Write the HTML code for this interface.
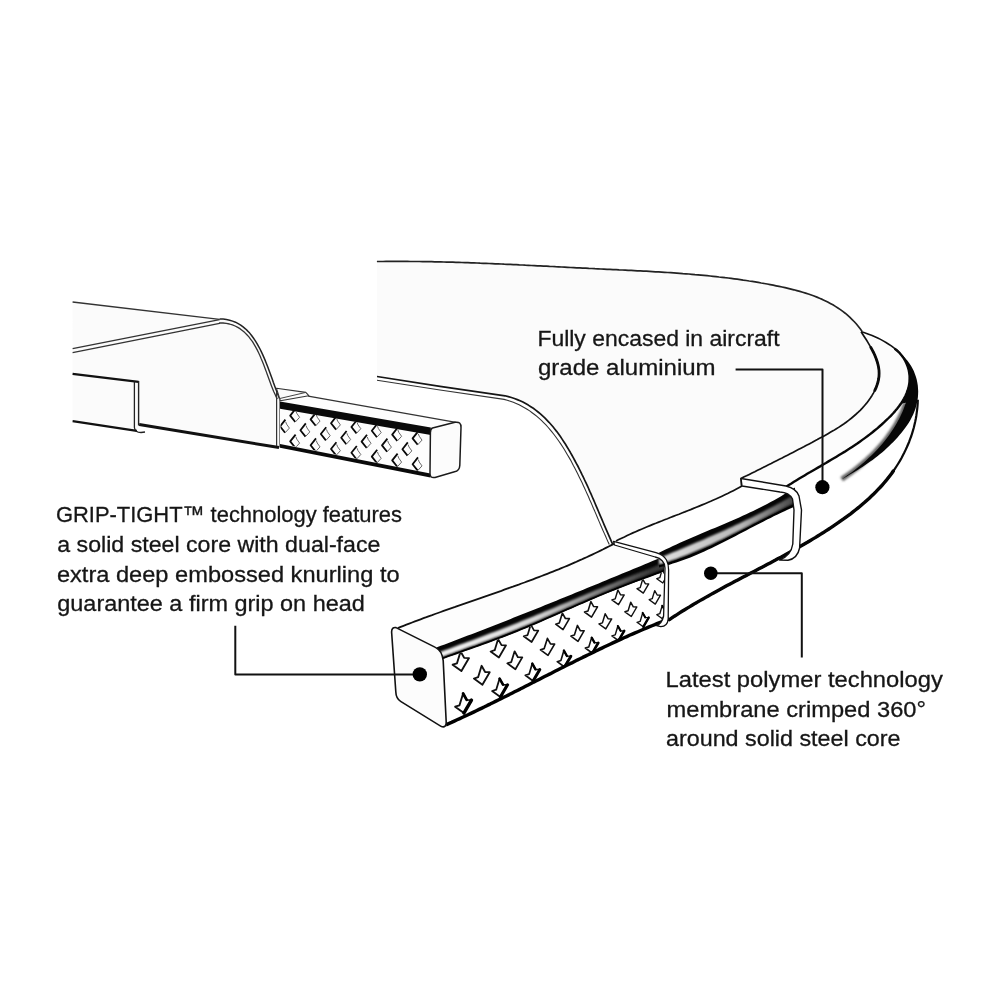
<!DOCTYPE html>
<html><head><meta charset="utf-8"><style>html,body{margin:0;padding:0;background:#fff;width:1000px;height:1000px;overflow:hidden}svg{display:block}</style></head>
<body><svg width="1000" height="1000" viewBox="0 0 1000 1000">
<defs><filter id="blur1" x="-20%" y="-20%" width="140%" height="140%"><feGaussianBlur stdDeviation="0.9"/></filter><linearGradient id="gE" gradientUnits="userSpaceOnUse" x1="440" y1="0" x2="650" y2="0"><stop offset="0" stop-color="#f4f4f4"/><stop offset="0.45" stop-color="#d8d8d8"/><stop offset="1" stop-color="#3a3a3a"/></linearGradient><linearGradient id="gG" gradientUnits="userSpaceOnUse" x1="660" y1="0" x2="795" y2="0"><stop offset="0" stop-color="#e0e0e0"/><stop offset="0.6" stop-color="#b8b8b8"/><stop offset="1" stop-color="#444"/></linearGradient><filter id="blur2" x="-20%" y="-20%" width="140%" height="140%"><feGaussianBlur stdDeviation="1.3"/></filter></defs>
<rect width="1000" height="1000" fill="#fff"/>
<path fill="#fbfbfb" d="M72.6,302 L219.6,319.4 L219.6,319.0 L223.1,319.1 L226.4,319.5 L229.6,320.2 L232.6,321.1 L235.5,322.2 L238.2,323.6 L240.7,325.1 L243.1,326.9 L245.4,328.8 L247.6,330.9 L249.7,333.1 L251.6,335.5 L253.4,338.0 L255.2,340.6 L256.9,343.3 L258.4,346.1 L260.0,349.0 L261.4,351.9 L262.8,354.9 L264.1,357.9 L265.4,360.9 L266.6,364.0 L267.8,367.1 L268.9,370.1 L270.1,373.2 L271.2,376.3 L272.3,379.3 L273.3,382.3 L274.4,385.2 L275.5,388.2 L276.6,391.0 L277.6,393.8 L278.7,396.5 L279.8,399.1 L280,447.8 L139,424.5 L137,431 L72.6,421.2 Z"/>
<path d="M72.6,302 L219.6,319.4" stroke="#333" stroke-width="1.4" fill="none" stroke-linejoin="round" />
<path d="M219.6,319.0 L223.1,319.1 L226.4,319.5 L229.6,320.2 L232.6,321.1 L235.5,322.2 L238.2,323.6 L240.7,325.1 L243.1,326.9 L245.4,328.8 L247.6,330.9 L249.7,333.1 L251.6,335.5 L253.4,338.0 L255.2,340.6 L256.9,343.3 L258.4,346.1 L260.0,349.0 L261.4,351.9 L262.8,354.9 L264.1,357.9 L265.4,360.9 L266.6,364.0 L267.8,367.1 L268.9,370.1 L270.1,373.2 L271.2,376.3 L272.3,379.3 L273.3,382.3 L274.4,385.2 L275.5,388.2 L276.6,391.0 L277.6,393.8 L278.7,396.5 L279.8,399.1" stroke="#222" stroke-width="1.5" fill="none" stroke-linejoin="round" />
<path d="M72.6,348.6 L219.6,319.6" stroke="#333" stroke-width="1.3" fill="none" stroke-linejoin="round" />
<path d="M72.6,352.6 L219.6,323.4 L219.5,322.9 L223.0,323.0 L226.3,323.4 L229.4,324.0 L232.4,324.9 L235.1,326.0 L237.8,327.4 L240.3,328.9 L242.6,330.7 L244.8,332.6 L246.9,334.7 L248.9,336.9 L250.7,339.3 L252.5,341.7 L254.1,344.4 L255.7,347.1 L257.2,349.9 L258.6,352.8 L260.0,355.7 L261.2,358.7 L262.5,361.7 L263.7,364.8 L264.8,367.8 L266.0,370.9 L267.1,374.0 L268.2,377.0 L269.3,380.0 L270.4,383.0 L271.5,385.9 L272.6,388.7 L273.7,391.4 L274.9,394.1 L276.1,396.7 L277.3,399.1" stroke="#333" stroke-width="1.3" fill="none" stroke-linejoin="round" />
<path d="M72.6,373.8 L138.6,381.8" stroke="#111" stroke-width="2.2" fill="none" stroke-linejoin="round" />
<path d="M138.6,381 L138.6,425.5" stroke="#222" stroke-width="1.4" fill="none" stroke-linejoin="round" />
<path d="M134.4,381.6 L134.4,427.5 Q135,432.5 141,432.5 L145,432" stroke="#222" stroke-width="1.3" fill="none" stroke-linejoin="round" />
<path d="M72.6,421.2 L136.8,430.8" stroke="#111" stroke-width="2.2" fill="none" stroke-linejoin="round" />
<path d="M139.2,424.6 L279,447.6" stroke="#111" stroke-width="3" fill="none" stroke-linejoin="round" />
<path d="M276.6,392 L276.6,446" stroke="#333" stroke-width="1.2" fill="none" stroke-linejoin="round" />
<path d="M280,399.6 L280,447.6" stroke="#333" stroke-width="1.2" fill="none" stroke-linejoin="round" />
<path fill="#fdfdfd" d="M280,399.8 L308.5,396 L456,422.3 L430.4,429 L430,477.4 L280,447.8 Z"/>
<path d="M276.4,388.2 L305.8,392.4 L308.8,395.7 L280.4,400.8 Z" fill="#fbfbfb" stroke="#333" stroke-width="1.1" stroke-linejoin="round"/>
<path d="M279.4,398.6 L305.8,392.4" stroke="#444" stroke-width="1.0" fill="none" stroke-linejoin="round" />
<path d="M308.2,396.2 L456,422.3" stroke="#333" stroke-width="1.3" fill="none" stroke-linejoin="round" />
<path d="M280,401.6 L430.8,427.4 L430.8,435 L280,408.8 Z" fill="#0a0a0a"/>
<path d="M280,444 L430.4,473.6 L430.4,477.6 L280,447.8 Z" fill="#0a0a0a"/>
<clipPath id="kb"><path d="M280.5,408.4 L430.5,434.6 L430.5,473.6 L280.5,443.6 Z"/></clipPath>
<g clip-path="url(#kb)">
<path d="M295.6,408.8 L290.2,415.6 L295.3,422.0" stroke="#0a0a0a" stroke-width="1.8" fill="none" stroke-linejoin="round"/><path d="M295.3,422.0 L299.6,417.3 L296.8,413.4 L295.9,411.0" stroke="#666" stroke-width="1.0" fill="none"/>
<path d="M285.4,419.6 L280.0,426.4 L285.1,432.8" stroke="#0a0a0a" stroke-width="1.8" fill="none" stroke-linejoin="round"/><path d="M285.1,432.8 L289.4,428.1 L286.6,424.2 L285.7,421.8" stroke="#666" stroke-width="1.0" fill="none"/>
<path d="M295.6,434.6 L290.2,441.4 L295.3,447.8" stroke="#0a0a0a" stroke-width="1.8" fill="none" stroke-linejoin="round"/><path d="M295.3,447.8 L299.6,443.1 L296.8,439.2 L295.9,436.8" stroke="#666" stroke-width="1.0" fill="none"/>
<path d="M316.0,412.6 L310.6,419.4 L315.7,425.8" stroke="#0a0a0a" stroke-width="1.8" fill="none" stroke-linejoin="round"/><path d="M315.7,425.8 L320.0,421.1 L317.2,417.2 L316.3,414.8" stroke="#666" stroke-width="1.0" fill="none"/>
<path d="M305.8,423.4 L300.4,430.2 L305.5,436.6" stroke="#0a0a0a" stroke-width="1.8" fill="none" stroke-linejoin="round"/><path d="M305.5,436.6 L309.8,431.9 L307.0,428.0 L306.1,425.6" stroke="#666" stroke-width="1.0" fill="none"/>
<path d="M316.0,438.4 L310.6,445.2 L315.7,451.6" stroke="#0a0a0a" stroke-width="1.8" fill="none" stroke-linejoin="round"/><path d="M315.7,451.6 L320.0,446.9 L317.2,443.0 L316.3,440.6" stroke="#666" stroke-width="1.0" fill="none"/>
<path d="M336.4,416.4 L331.0,423.2 L336.1,429.6" stroke="#0a0a0a" stroke-width="1.8" fill="none" stroke-linejoin="round"/><path d="M336.1,429.6 L340.4,424.9 L337.6,421.0 L336.7,418.6" stroke="#666" stroke-width="1.0" fill="none"/>
<path d="M326.2,427.2 L320.8,434.0 L325.9,440.4" stroke="#0a0a0a" stroke-width="1.8" fill="none" stroke-linejoin="round"/><path d="M325.9,440.4 L330.2,435.7 L327.4,431.8 L326.5,429.4" stroke="#666" stroke-width="1.0" fill="none"/>
<path d="M336.4,442.2 L331.0,449.0 L336.1,455.4" stroke="#0a0a0a" stroke-width="1.8" fill="none" stroke-linejoin="round"/><path d="M336.1,455.4 L340.4,450.7 L337.6,446.8 L336.7,444.4" stroke="#666" stroke-width="1.0" fill="none"/>
<path d="M356.8,420.2 L351.4,427.0 L356.5,433.4" stroke="#0a0a0a" stroke-width="1.8" fill="none" stroke-linejoin="round"/><path d="M356.5,433.4 L360.8,428.7 L358.0,424.8 L357.1,422.4" stroke="#666" stroke-width="1.0" fill="none"/>
<path d="M346.6,431.0 L341.2,437.8 L346.3,444.2" stroke="#0a0a0a" stroke-width="1.8" fill="none" stroke-linejoin="round"/><path d="M346.3,444.2 L350.6,439.5 L347.8,435.6 L346.9,433.2" stroke="#666" stroke-width="1.0" fill="none"/>
<path d="M356.8,446.0 L351.4,452.8 L356.5,459.2" stroke="#0a0a0a" stroke-width="1.8" fill="none" stroke-linejoin="round"/><path d="M356.5,459.2 L360.8,454.5 L358.0,450.6 L357.1,448.2" stroke="#666" stroke-width="1.0" fill="none"/>
<path d="M377.2,424.0 L371.8,430.8 L376.9,437.2" stroke="#0a0a0a" stroke-width="1.8" fill="none" stroke-linejoin="round"/><path d="M376.9,437.2 L381.2,432.5 L378.4,428.6 L377.5,426.2" stroke="#666" stroke-width="1.0" fill="none"/>
<path d="M367.0,434.8 L361.6,441.6 L366.7,448.0" stroke="#0a0a0a" stroke-width="1.8" fill="none" stroke-linejoin="round"/><path d="M366.7,448.0 L371.0,443.3 L368.2,439.4 L367.3,437.0" stroke="#666" stroke-width="1.0" fill="none"/>
<path d="M377.2,449.8 L371.8,456.6 L376.9,463.0" stroke="#0a0a0a" stroke-width="1.8" fill="none" stroke-linejoin="round"/><path d="M376.9,463.0 L381.2,458.3 L378.4,454.4 L377.5,452.0" stroke="#666" stroke-width="1.0" fill="none"/>
<path d="M397.6,427.8 L392.2,434.6 L397.3,441.0" stroke="#0a0a0a" stroke-width="1.8" fill="none" stroke-linejoin="round"/><path d="M397.3,441.0 L401.6,436.3 L398.8,432.4 L397.9,430.0" stroke="#666" stroke-width="1.0" fill="none"/>
<path d="M387.4,438.6 L382.0,445.4 L387.1,451.8" stroke="#0a0a0a" stroke-width="1.8" fill="none" stroke-linejoin="round"/><path d="M387.1,451.8 L391.4,447.1 L388.6,443.2 L387.7,440.8" stroke="#666" stroke-width="1.0" fill="none"/>
<path d="M397.6,453.6 L392.2,460.4 L397.3,466.8" stroke="#0a0a0a" stroke-width="1.8" fill="none" stroke-linejoin="round"/><path d="M397.3,466.8 L401.6,462.1 L398.8,458.2 L397.9,455.8" stroke="#666" stroke-width="1.0" fill="none"/>
<path d="M418.0,431.6 L412.6,438.4 L417.7,444.8" stroke="#0a0a0a" stroke-width="1.8" fill="none" stroke-linejoin="round"/><path d="M417.7,444.8 L422.0,440.1 L419.2,436.2 L418.3,433.8" stroke="#666" stroke-width="1.0" fill="none"/>
<path d="M407.8,442.4 L402.4,449.2 L407.5,455.6" stroke="#0a0a0a" stroke-width="1.8" fill="none" stroke-linejoin="round"/><path d="M407.5,455.6 L411.8,450.9 L409.0,447.0 L408.1,444.6" stroke="#666" stroke-width="1.0" fill="none"/>
<path d="M418.0,457.4 L412.6,464.2 L417.7,470.6" stroke="#0a0a0a" stroke-width="1.8" fill="none" stroke-linejoin="round"/><path d="M417.7,470.6 L422.0,465.9 L419.2,462.0 L418.3,459.6" stroke="#666" stroke-width="1.0" fill="none"/>
</g>
<path d="M432.5,428 L455,422.3 Q461.2,421.2 461,427.5 L459.8,465.5 Q459.5,470.8 454.5,471.8 L435,477.4 Q430,478.5 430,473.5 L430.4,432.5 Q430.6,428.6 432.5,428 Z" fill="#fcfcfc" stroke="#1a1a1a" stroke-width="1.5"/>
<path fill="#fbfbfb" d="M376.9,261.5 L380.0,261.5 L383.0,261.5 L386.1,261.4 L389.1,261.4 L392.2,261.4 L395.2,261.4 L398.3,261.4 L401.3,261.4 L404.3,261.4 L407.4,261.4 L410.4,261.5 L413.5,261.5 L416.5,261.5 L419.5,261.5 L422.6,261.6 L425.6,261.6 L428.6,261.7 L431.7,261.7 L434.7,261.8 L437.7,261.9 L440.8,261.9 L443.8,262.0 L446.8,262.1 L449.8,262.2 L452.9,262.2 L455.9,262.3 L458.9,262.4 L461.9,262.5 L465.0,262.6 L468.0,262.7 L471.0,262.8 L474.0,262.9 L477.0,263.0 L480.1,263.2 L483.1,263.3 L486.1,263.4 L489.1,263.5 L492.1,263.6 L495.2,263.8 L498.2,263.9 L501.2,264.0 L504.2,264.2 L507.2,264.3 L510.3,264.4 L513.3,264.6 L516.3,264.7 L519.3,264.9 L522.3,265.0 L525.3,265.2 L528.4,265.3 L531.4,265.5 L534.4,265.6 L537.4,265.8 L540.4,265.9 L543.5,266.1 L546.5,266.2 L549.5,266.4 L552.5,266.5 L555.5,266.7 L558.6,266.8 L561.6,267.0 L564.6,267.1 L567.6,267.3 L570.7,267.5 L573.7,267.6 L576.7,267.8 L579.7,267.9 L582.7,268.1 L585.8,268.2 L588.8,268.4 L591.8,268.5 L594.9,268.7 L597.9,268.8 L600.9,269.0 L603.9,269.1 L607.0,269.3 L610.0,269.4 L613.0,269.6 L616.1,269.7 L619.1,269.9 L622.1,270.0 L625.2,270.1 L628.2,270.3 L631.2,270.4 L634.3,270.6 L637.3,270.8 L640.4,270.9 L643.4,271.1 L646.4,271.2 L649.5,271.4 L652.5,271.6 L655.5,271.8 L658.6,271.9 L661.6,272.1 L664.6,272.3 L667.7,272.5 L670.7,272.7 L673.7,272.9 L676.8,273.1 L679.8,273.3 L682.8,273.6 L685.9,273.8 L688.9,274.0 L691.9,274.3 L695.0,274.6 L698.0,274.8 L701.0,275.1 L704.0,275.4 L707.1,275.7 L710.1,276.0 L713.1,276.3 L716.1,276.6 L719.1,277.0 L722.2,277.3 L725.2,277.7 L728.2,278.0 L731.2,278.4 L734.2,278.8 L737.2,279.2 L740.2,279.6 L743.2,280.1 L746.2,280.5 L749.2,281.0 L752.2,281.4 L755.2,281.9 L758.2,282.4 L761.2,283.0 L764.2,283.5 L767.2,284.0 L770.2,284.6 L773.2,285.2 L776.1,285.8 L779.1,286.4 L782.1,287.0 L785.1,287.7 L788.0,288.4 L791.0,289.1 L793.9,289.8 L796.9,290.6 L799.8,291.4 L802.7,292.2 L805.6,293.1 L808.4,294.0 L811.3,295.0 L814.1,296.0 L816.9,297.1 L819.6,298.3 L822.3,299.4 L825.0,300.7 L827.7,302.0 L830.3,303.4 L832.9,304.8 L835.4,306.4 L837.9,308.0 L840.4,309.6 L842.8,311.4 L845.2,313.2 L847.5,315.2 L849.7,317.2 L851.9,319.3 L854.1,321.5 L856.2,323.8 L858.2,326.2 L860.2,328.8 L862.1,331.4 L861.1,331.7 L862.7,334.2 L864.3,336.7 L866.0,339.3 L867.6,341.9 L869.2,344.6 L870.8,347.4 L872.3,350.2 L873.8,353.0 L875.1,355.9 L876.2,358.7 L877.2,361.7 L878.0,364.6 L878.6,367.5 L879.0,370.4 L879.1,373.3 L879.0,376.2 L878.6,379.1 L878.0,382.0 L877.1,384.8 L876.1,387.6 L874.8,390.4 L873.4,393.1 L871.9,395.7 L870.2,398.3 L868.3,400.9 L866.4,403.4 L864.4,405.7 L862.3,408.1 L860.2,410.3 L858.0,412.4 L855.7,414.5 L853.4,416.5 L851.0,418.5 L848.6,420.4 L846.2,422.2 L843.7,424.0 L841.1,425.7 L838.6,427.4 L836.0,429.0 L833.4,430.6 L830.7,432.1 L828.0,433.7 L825.4,435.2 L822.7,436.7 L820.0,438.1 L817.3,439.6 L814.6,441.0 L811.9,442.5 L809.2,443.9 L806.5,445.3 L803.8,446.8 L801.0,448.2 L798.3,449.6 L795.6,451.0 L792.9,452.4 L790.2,453.8 L787.5,455.2 L784.8,456.6 L782.1,458.0 L779.4,459.3 L776.6,460.7 L773.9,462.1 L771.2,463.5 L768.5,464.8 L765.7,466.2 L763.0,467.6 L760.3,468.9 L757.5,470.3 L754.8,471.7 L752.0,473.0 L749.3,474.4 L746.5,475.8 L743.7,477.1 L741.0,478.5 L741.5,486.3 L738.8,487.8 L736.0,489.3 L733.3,490.7 L730.5,492.1 L727.7,493.5 L724.9,494.8 L722.0,496.2 L719.2,497.5 L716.4,498.8 L713.5,500.0 L710.7,501.3 L707.8,502.5 L705.0,503.7 L702.1,504.9 L699.2,506.1 L696.3,507.3 L693.5,508.4 L690.6,509.6 L687.7,510.7 L684.8,511.9 L681.9,513.0 L679.0,514.2 L676.1,515.3 L673.2,516.4 L670.3,517.5 L667.4,518.7 L664.5,519.8 L661.6,521.0 L658.7,522.1 L655.8,523.3 L652.9,524.4 L650.0,525.6 L647.2,526.8 L644.3,528.0 L641.4,529.2 L638.6,530.4 L635.7,531.7 L632.9,532.9 L630.0,534.2 L627.2,535.5 L624.4,536.9 L621.6,538.2 L618.8,539.6 L616.0,541.0 L612,545 L611.6,541.8 L610.4,539.1 L609.2,536.3 L608.0,533.6 L606.8,530.8 L605.6,528.1 L604.4,525.3 L603.2,522.5 L602.0,519.7 L600.8,516.9 L599.6,514.1 L598.4,511.2 L597.2,508.4 L596.0,505.6 L594.8,502.7 L593.6,499.9 L592.3,497.0 L591.1,494.2 L589.8,491.4 L588.6,488.5 L587.3,485.7 L586.0,482.9 L584.6,480.0 L583.3,477.2 L581.9,474.4 L580.6,471.6 L579.2,468.8 L577.8,466.0 L576.3,463.3 L574.8,460.5 L573.4,457.8 L571.8,455.0 L570.3,452.3 L568.7,449.6 L567.1,447.0 L565.5,444.3 L563.8,441.7 L562.1,439.1 L560.4,436.6 L558.6,434.1 L556.8,431.6 L554.9,429.2 L553.0,426.8 L551.0,424.5 L549.0,422.3 L546.9,420.1 L544.8,417.9 L542.6,415.9 L540.4,413.9 L538.1,412.0 L535.7,410.1 L533.3,408.3 L530.8,406.7 L528.3,405.1 L525.6,403.6 L522.9,402.1 L520.1,400.8 L517.3,399.6 L514.4,398.5 L511.4,397.5 L508.3,396.6 L505.1,395.8 L440.0,386.3 L377.0,376.5 Z"/>
<path d="M376.9,261.5 L380.0,261.5 L383.0,261.5 L386.1,261.4 L389.1,261.4 L392.2,261.4 L395.2,261.4 L398.3,261.4 L401.3,261.4 L404.3,261.4 L407.4,261.4 L410.4,261.5 L413.5,261.5 L416.5,261.5 L419.5,261.5 L422.6,261.6 L425.6,261.6 L428.6,261.7 L431.7,261.7 L434.7,261.8 L437.7,261.9 L440.8,261.9 L443.8,262.0 L446.8,262.1 L449.8,262.2 L452.9,262.2 L455.9,262.3 L458.9,262.4 L461.9,262.5 L465.0,262.6 L468.0,262.7 L471.0,262.8 L474.0,262.9 L477.0,263.0 L480.1,263.2 L483.1,263.3 L486.1,263.4 L489.1,263.5 L492.1,263.6 L495.2,263.8 L498.2,263.9 L501.2,264.0 L504.2,264.2 L507.2,264.3 L510.3,264.4 L513.3,264.6 L516.3,264.7 L519.3,264.9 L522.3,265.0 L525.3,265.2 L528.4,265.3 L531.4,265.5 L534.4,265.6 L537.4,265.8 L540.4,265.9 L543.5,266.1 L546.5,266.2 L549.5,266.4 L552.5,266.5 L555.5,266.7 L558.6,266.8 L561.6,267.0 L564.6,267.1 L567.6,267.3 L570.7,267.5 L573.7,267.6 L576.7,267.8 L579.7,267.9 L582.7,268.1 L585.8,268.2 L588.8,268.4 L591.8,268.5 L594.9,268.7 L597.9,268.8 L600.9,269.0 L603.9,269.1 L607.0,269.3 L610.0,269.4 L613.0,269.6 L616.1,269.7 L619.1,269.9 L622.1,270.0 L625.2,270.1 L628.2,270.3 L631.2,270.4 L634.3,270.6 L637.3,270.8 L640.4,270.9 L643.4,271.1 L646.4,271.2 L649.5,271.4 L652.5,271.6 L655.5,271.8 L658.6,271.9 L661.6,272.1 L664.6,272.3 L667.7,272.5 L670.7,272.7 L673.7,272.9 L676.8,273.1 L679.8,273.3 L682.8,273.6 L685.9,273.8 L688.9,274.0 L691.9,274.3 L695.0,274.6 L698.0,274.8 L701.0,275.1 L704.0,275.4 L707.1,275.7 L710.1,276.0 L713.1,276.3 L716.1,276.6 L719.1,277.0 L722.2,277.3 L725.2,277.7 L728.2,278.0 L731.2,278.4 L734.2,278.8 L737.2,279.2 L740.2,279.6 L743.2,280.1 L746.2,280.5 L749.2,281.0 L752.2,281.4 L755.2,281.9 L758.2,282.4 L761.2,283.0 L764.2,283.5 L767.2,284.0 L770.2,284.6 L773.2,285.2 L776.1,285.8 L779.1,286.4 L782.1,287.0 L785.1,287.7 L788.0,288.4 L791.0,289.1 L793.9,289.8 L796.9,290.6 L799.8,291.4 L802.7,292.2 L805.6,293.1 L808.4,294.0 L811.3,295.0 L814.1,296.0 L816.9,297.1 L819.6,298.3 L822.3,299.4 L825.0,300.7 L827.7,302.0 L830.3,303.4 L832.9,304.8 L835.4,306.4 L837.9,308.0 L840.4,309.6 L842.8,311.4 L845.2,313.2 L847.5,315.2 L849.7,317.2 L851.9,319.3 L854.1,321.5 L856.2,323.8 L858.2,326.2 L860.2,328.8 L862.1,331.4" stroke="#222" stroke-width="1.7" fill="none" stroke-linejoin="round" />
<path d="M612.8,544.5 L611.6,541.8 L610.4,539.1 L609.2,536.3 L608.0,533.6 L606.8,530.8 L605.6,528.1 L604.4,525.3 L603.2,522.5 L602.0,519.7 L600.8,516.9 L599.6,514.1 L598.4,511.2 L597.2,508.4 L596.0,505.6 L594.8,502.7 L593.6,499.9 L592.3,497.0 L591.1,494.2 L589.8,491.4 L588.6,488.5 L587.3,485.7 L586.0,482.9 L584.6,480.0 L583.3,477.2 L581.9,474.4 L580.6,471.6 L579.2,468.8 L577.8,466.0 L576.3,463.3 L574.8,460.5 L573.4,457.8 L571.8,455.0 L570.3,452.3 L568.7,449.6 L567.1,447.0 L565.5,444.3 L563.8,441.7 L562.1,439.1 L560.4,436.6 L558.6,434.1 L556.8,431.6 L554.9,429.2 L553.0,426.8 L551.0,424.5 L549.0,422.3 L546.9,420.1 L544.8,417.9 L542.6,415.9 L540.4,413.9 L538.1,412.0 L535.7,410.1 L533.3,408.3 L530.8,406.7 L528.3,405.1 L525.6,403.6 L522.9,402.1 L520.1,400.8 L517.3,399.6 L514.4,398.5 L511.4,397.5 L508.3,396.6 L505.1,395.8 L440.0,386.3 L377.0,376.5" stroke="#151515" stroke-width="1.7" fill="none" stroke-linejoin="round" />
<path d="M609.3,544.5 L608.0,541.8 L606.8,539.1 L605.6,536.3 L604.4,533.6 L603.1,530.8 L601.9,528.0 L600.7,525.2 L599.5,522.4 L598.3,519.6 L597.1,516.8 L595.9,513.9 L594.7,511.1 L593.4,508.3 L592.2,505.4 L591.0,502.5 L589.7,499.7 L588.5,496.8 L587.2,494.0 L585.9,491.1 L584.6,488.2 L583.3,485.4 L582.0,482.5 L580.6,479.7 L579.2,476.9 L577.8,474.0 L576.4,471.2 L575.0,468.4 L573.5,465.7 L572.1,462.9 L570.6,460.1 L569.0,457.4 L567.4,454.7 L565.8,452.0 L564.2,449.3 L562.6,446.7 L560.9,444.1 L559.1,441.5 L557.3,439.0 L555.5,436.5 L553.6,434.0 L551.7,431.6 L549.8,429.3 L547.8,427.0 L545.7,424.7 L543.6,422.6 L541.4,420.4 L539.2,418.4 L536.9,416.4 L534.5,414.5 L532.1,412.7 L529.7,410.9 L527.1,409.3 L524.5,407.7 L521.8,406.2 L519.1,404.8 L516.2,403.5 L513.3,402.3 L510.3,401.2 L507.2,400.3 L504.1,399.4 L440.0,390.0 L377.0,380.2" stroke="#333" stroke-width="1.1" fill="none" stroke-linejoin="round" />
<path fill="#fcfcfc" d="M861.1,331.7 L862.7,334.2 L864.3,336.7 L866.0,339.3 L867.6,341.9 L869.2,344.6 L870.8,347.4 L872.3,350.2 L873.8,353.0 L875.1,355.9 L876.2,358.7 L877.2,361.7 L878.0,364.6 L878.6,367.5 L879.0,370.4 L879.1,373.3 L879.0,376.2 L878.6,379.1 L878.0,382.0 L877.1,384.8 L876.1,387.6 L874.8,390.4 L873.4,393.1 L871.9,395.7 L870.2,398.3 L868.3,400.9 L866.4,403.4 L864.4,405.7 L862.3,408.1 L860.2,410.3 L858.0,412.4 L855.7,414.5 L853.4,416.5 L851.0,418.5 L848.6,420.4 L846.2,422.2 L843.7,424.0 L841.1,425.7 L838.6,427.4 L836.0,429.0 L833.4,430.6 L830.7,432.1 L828.0,433.7 L825.4,435.2 L822.7,436.7 L820.0,438.1 L817.3,439.6 L814.6,441.0 L811.9,442.5 L809.2,443.9 L806.5,445.3 L803.8,446.8 L801.0,448.2 L798.3,449.6 L795.6,451.0 L792.9,452.4 L790.2,453.8 L787.5,455.2 L784.8,456.6 L782.1,458.0 L779.4,459.3 L776.6,460.7 L773.9,462.1 L771.2,463.5 L768.5,464.8 L765.7,466.2 L763.0,467.6 L760.3,468.9 L757.5,470.3 L754.8,471.7 L752.0,473.0 L749.3,474.4 L746.5,475.8 L743.7,477.1 L741.0,478.5 L786,486.5 L786.2,486.8 L788.8,485.1 L791.4,483.5 L794.0,481.8 L796.6,480.2 L799.3,478.6 L801.9,477.0 L804.6,475.4 L807.2,473.8 L809.9,472.3 L812.6,470.7 L815.2,469.2 L817.9,467.6 L820.6,466.1 L823.2,464.5 L825.9,463.0 L828.5,461.4 L831.2,459.8 L833.8,458.3 L836.5,456.7 L839.1,455.1 L841.7,453.5 L844.4,451.9 L847.0,450.2 L849.6,448.6 L852.1,446.9 L854.7,445.2 L857.3,443.5 L859.8,441.7 L862.3,439.9 L864.8,438.1 L867.3,436.3 L869.8,434.4 L872.2,432.5 L874.6,430.5 L877.0,428.6 L879.4,426.5 L881.7,424.5 L884.0,422.4 L886.3,420.2 L888.6,418.0 L890.8,415.8 L893.0,413.5 L895.1,411.1 L897.1,408.7 L899.0,406.3 L900.8,403.8 L902.5,401.2 L904.0,398.6 L905.4,396.0 L906.6,393.2 L907.6,390.5 L908.5,387.7 L909.1,384.8 L909.5,381.8 L909.6,378.9 L909.6,375.9 L909.2,372.9 L908.7,369.9 L907.8,366.9 L906.7,364.0 L905.4,361.2 L903.8,358.4 L901.9,355.7 L899.8,353.2 L897.3,350.8 L894.6,348.6 L861.2,331.7 Z"/>
<path d="M841.7,479.2 L844.3,477.4 L846.9,475.6 L849.5,473.7 L852.1,471.9 L854.6,469.9 L857.1,468.0 L859.6,466.0 L862.0,464.0 L864.4,461.9 L866.8,459.8 L869.1,457.6 L871.4,455.5 L873.7,453.2 L875.9,451.0 L878.0,448.7 L880.2,446.3 L882.2,443.9 L884.2,441.5 L886.2,439.0 L888.1,436.5 L889.9,433.9 L891.7,431.3 L893.4,428.7 L895.1,426.0 L896.7,423.3 L898.2,420.5 L899.7,417.7 L901.1,414.8 L902.4,411.9 L903.6,408.9 L904.7,405.9 L905.8,402.8" stroke="#666" stroke-width="5" fill="none" stroke-linejoin="round" filter="url(#blur2)"/>
<path fill="#070707" d="M896.4,349.8 L898.9,351.8 L901.2,353.9 L903.4,356.2 L905.5,358.5 L907.5,360.8 L909.3,363.3 L911.0,365.8 L912.5,368.4 L913.8,371.1 L914.9,373.9 L915.9,376.7 L916.7,379.5 L917.3,382.4 L917.8,385.4 L918.0,388.3 L918.2,391.3 L918.1,394.3 L917.9,397.2 L917.5,400.2 L916.9,403.1 L916.2,406.1 L915.4,409.0 L914.3,411.8 L913.2,414.6 L911.8,417.3 L910.4,420.0 L908.8,422.7 L907.1,425.2 L905.3,427.8 L903.4,430.2 L901.5,432.7 L899.5,435.1 L897.5,437.4 L895.4,439.7 L893.3,441.9 L891.1,444.1 L888.9,446.3 L886.7,448.3 L884.4,450.4 L882.1,452.4 L879.8,454.3 L877.4,456.2 L875.1,458.1 L872.6,459.9 L870.2,461.6 L867.7,463.3 L865.2,465.0 L862.7,466.7 L860.2,468.3 L857.6,469.9 L855.1,471.5 L852.5,473.1 L849.8,474.6 L847.2,476.2 L844.5,477.7 L841.8,479.3 L841.7,479.2 L844.3,477.4 L846.9,475.6 L849.5,473.7 L852.1,471.9 L854.6,469.9 L857.1,468.0 L859.6,466.0 L862.0,464.0 L864.4,461.9 L866.8,459.8 L869.1,457.6 L871.4,455.5 L873.7,453.2 L875.9,451.0 L878.0,448.7 L880.2,446.3 L882.2,443.9 L884.2,441.5 L886.2,439.0 L888.1,436.5 L889.9,433.9 L891.7,431.3 L893.4,428.7 L895.1,426.0 L896.7,423.3 L898.2,420.5 L899.7,417.7 L901.1,414.8 L902.4,411.9 L903.6,408.9 L904.7,405.9 L905.8,402.8 L900.8,403.8 L902.5,401.2 L904.0,398.6 L905.4,396.0 L906.6,393.2 L907.6,390.5 L908.5,387.7 L909.1,384.8 L909.5,381.8 L909.6,378.9 L909.6,375.9 L909.2,372.9 L908.7,369.9 L907.8,366.9 L906.7,364.0 L905.4,361.2 L903.8,358.4 L901.9,355.7 L899.8,353.2 L897.3,350.8 L894.6,348.6 Z"/>
<path d="M894.6,348.6 L897.3,350.8 L899.8,353.2 L901.9,355.7 L903.8,358.4 L905.4,361.2 L906.7,364.0 L907.8,366.9 L908.7,369.9 L909.2,372.9 L909.6,375.9 L909.6,378.9 L909.5,381.8 L909.1,384.8 L908.5,387.7 L907.6,390.5 L906.6,393.2 L905.4,396.0 L904.0,398.6 L902.5,401.2 L900.8,403.8 L899.0,406.3 L897.1,408.7 L895.1,411.1 L893.0,413.5 L890.8,415.8 L888.6,418.0 L886.3,420.2 L884.0,422.4 L881.7,424.5 L879.4,426.5 L877.0,428.6 L874.6,430.5 L872.2,432.5 L869.8,434.4 L867.3,436.3 L864.8,438.1 L862.3,439.9 L859.8,441.7 L857.3,443.5 L854.7,445.2 L852.1,446.9 L849.6,448.6 L847.0,450.2 L844.4,451.9 L841.7,453.5 L839.1,455.1 L836.5,456.7 L833.8,458.3 L831.2,459.8 L828.5,461.4 L825.9,463.0 L823.2,464.5 L820.6,466.1 L817.9,467.6 L815.2,469.2 L812.6,470.7 L809.9,472.3 L807.2,473.8 L804.6,475.4 L801.9,477.0 L799.3,478.6 L796.6,480.2 L794.0,481.8 L791.4,483.5 L788.8,485.1 L786.2,486.8" stroke="#070707" stroke-width="2.4" fill="none" stroke-linejoin="round" />
<path d="M861.1,331.7 L862.7,334.2 L864.3,336.7 L866.0,339.3 L867.6,341.9 L869.2,344.6 L870.8,347.4 L872.3,350.2 L873.8,353.0 L875.1,355.9 L876.2,358.7 L877.2,361.7 L878.0,364.6 L878.6,367.5 L879.0,370.4 L879.1,373.3 L879.0,376.2 L878.6,379.1 L878.0,382.0 L877.1,384.8 L876.1,387.6 L874.8,390.4 L873.4,393.1 L871.9,395.7 L870.2,398.3 L868.3,400.9 L866.4,403.4 L864.4,405.7 L862.3,408.1 L860.2,410.3 L858.0,412.4 L855.7,414.5 L853.4,416.5 L851.0,418.5 L848.6,420.4 L846.2,422.2 L843.7,424.0 L841.1,425.7 L838.6,427.4 L836.0,429.0 L833.4,430.6 L830.7,432.1 L828.0,433.7 L825.4,435.2 L822.7,436.7 L820.0,438.1 L817.3,439.6 L814.6,441.0 L811.9,442.5 L809.2,443.9 L806.5,445.3 L803.8,446.8 L801.0,448.2 L798.3,449.6 L795.6,451.0 L792.9,452.4 L790.2,453.8 L787.5,455.2 L784.8,456.6 L782.1,458.0 L779.4,459.3 L776.6,460.7 L773.9,462.1 L771.2,463.5 L768.5,464.8 L765.7,466.2 L763.0,467.6 L760.3,468.9 L757.5,470.3 L754.8,471.7 L752.0,473.0 L749.3,474.4 L746.5,475.8 L743.7,477.1 L741.0,478.5 L741.5,486.3 L738.8,487.8 L736.0,489.3 L733.3,490.7 L730.5,492.1 L727.7,493.5 L724.9,494.8 L722.0,496.2 L719.2,497.5 L716.4,498.8 L713.5,500.0 L710.7,501.3 L707.8,502.5 L705.0,503.7 L702.1,504.9 L699.2,506.1 L696.3,507.3 L693.5,508.4 L690.6,509.6 L687.7,510.7 L684.8,511.9 L681.9,513.0 L679.0,514.2 L676.1,515.3 L673.2,516.4 L670.3,517.5 L667.4,518.7 L664.5,519.8 L661.6,521.0 L658.7,522.1 L655.8,523.3 L652.9,524.4 L650.0,525.6 L647.2,526.8 L644.3,528.0 L641.4,529.2 L638.6,530.4 L635.7,531.7 L632.9,532.9 L630.0,534.2 L627.2,535.5 L624.4,536.9 L621.6,538.2 L618.8,539.6 L616.0,541.0" stroke="#111" stroke-width="1.7" fill="none" stroke-linejoin="round" />
<path d="M870.8,347.4 L872.3,350.2 L873.8,353.0 L875.1,355.9 L876.2,358.7 L877.2,361.7 L878.0,364.6 L878.6,367.5 L879.0,370.4 L879.1,373.3 L879.0,376.2 L878.6,379.1 L878.0,382.0 L877.1,384.8 L876.1,387.6 L874.8,390.4" stroke="#0a0a0a" stroke-width="2.8" fill="none" stroke-linejoin="round" stroke-linecap="round"/>
<path d="M861.2,331.8 L863.9,332.6 L866.6,333.4 L869.3,334.4 L872.1,335.5 L874.9,336.7 L877.7,338.0 L880.5,339.4 L883.2,340.9 L886.0,342.5 L888.7,344.2 L891.3,345.9 L893.9,347.8 L896.4,349.8 L898.9,351.8" stroke="#111" stroke-width="1.6" fill="none" stroke-linejoin="round" />
<path d="M917.8,399.8 L917.7,402.9 L917.5,406.0 L917.2,409.1 L916.8,412.1 L916.4,415.2 L915.9,418.2 L915.3,421.2 L914.6,424.2 L913.9,427.2 L913.1,430.2 L912.2,433.1 L911.3,436.0 L910.2,438.9 L909.2,441.7 L908.0,444.5 L906.8,447.3 L905.5,450.1 L904.2,452.8 L902.8,455.5 L901.4,458.2 L899.9,460.9 L898.3,463.5 L896.7,466.0 L895.0,468.6 L893.3,471.1 L891.6,473.5 L889.7,476.0 L887.9,478.3 L886.0,480.7 L884.0,483.0 L882.0,485.3 L880.0,487.5 L877.9,489.7 L875.8,491.9 L873.7,494.0 L871.5,496.1 L869.3,498.2 L867.0,500.2 L864.7,502.3 L862.4,504.2 L860.1,506.2 L857.8,508.1 L855.4,510.0 L853.0,511.9 L850.6,513.8 L848.1,515.6 L845.7,517.4 L843.2,519.2 L840.7,520.9 L838.2,522.7 L835.7,524.4 L833.2,526.1 L830.6,527.8 L828.1,529.5 L825.5,531.1 L823.0,532.8 L820.4,534.4 L817.8,536.0 L815.2,537.6 L812.6,539.1 L810.0,540.7 L807.4,542.3 L804.8,543.8 L802.2,545.3 L799.5,546.8 L796.9,548.3 L794.2,549.8 L791.6,551.3 L788.9,552.8 L786.2,554.3 L783.6,555.7 L780.9,557.2 L778.2,558.6 L775.5,560.1 L772.8,561.5 L770.2,562.9 L767.5,564.3 L764.8,565.8 L762.1,567.2 L759.4,568.6 L756.7,570.0 L754.0,571.4 L751.3,572.8 L748.6,574.3 L745.9,575.7 L743.2,577.1 L740.5,578.5 L737.8,579.9 L735.1,581.3 L732.4,582.8 L729.7,584.2 L727.0,585.6 L724.3,587.1 L721.7,588.5 L719.0,590.0 L716.3,591.4 L713.6,592.9 L711.0,594.4 L708.3,595.9 L705.7,597.4 L703.0,598.9 L700.4,600.4 L697.8,601.9 L695.1,603.4 L692.5,605.0 L689.9,606.6 L687.3,608.1 L684.7,609.7 L682.1,611.3 L679.6,612.9 L677.0,614.6 L674.4,616.2 L671.9,617.9 L669.4,619.6" stroke="#0a0a0a" stroke-width="2.2" fill="none" stroke-linejoin="round" />
<path d="M893.3,471.1 L891.6,473.5 L889.7,476.0 L887.9,478.3 L886.0,480.7 L884.0,483.0 L882.0,485.3 L880.0,487.5 L877.9,489.7 L875.8,491.9 L873.7,494.0 L871.5,496.1 L869.3,498.2 L867.0,500.2 L864.7,502.3 L862.4,504.2 L860.1,506.2 L857.8,508.1 L855.4,510.0 L853.0,511.9 L850.6,513.8 L848.1,515.6 L845.7,517.4 L843.2,519.2 L840.7,520.9 L838.2,522.7 L835.7,524.4 L833.2,526.1 L830.6,527.8 L828.1,529.5 L825.5,531.1 L823.0,532.8 L820.4,534.4 L817.8,536.0 L815.2,537.6 L812.6,539.1 L810.0,540.7 L807.4,542.3 L804.8,543.8 L802.2,545.3 L799.5,546.8 L796.9,548.3 L794.2,549.8 L791.6,551.3 L788.9,552.8 L786.2,554.3 L783.6,555.7 L780.9,557.2 L778.2,558.6 L775.5,560.1 L772.8,561.5 L770.2,562.9 L767.5,564.3 L764.8,565.8 L762.1,567.2 L759.4,568.6 L756.7,570.0 L754.0,571.4 L751.3,572.8 L748.6,574.3 L745.9,575.7 L743.2,577.1 L740.5,578.5 L737.8,579.9 L735.1,581.3 L732.4,582.8 L729.7,584.2 L727.0,585.6 L724.3,587.1 L721.7,588.5 L719.0,590.0 L716.3,591.4 L713.6,592.9 L711.0,594.4 L708.3,595.9 L705.7,597.4 L703.0,598.9 L700.4,600.4 L697.8,601.9 L695.1,603.4 L692.5,605.0 L689.9,606.6 L687.3,608.1 L684.7,609.7 L682.1,611.3 L679.6,612.9 L677.0,614.6 L674.4,616.2 L671.9,617.9 L669.4,619.6" stroke="#050505" stroke-width="3.4" fill="none" stroke-linejoin="round" stroke-linecap="round"/>
<path fill="#fdfdfd" d="M397.8,628.1 L400.7,626.9 L403.5,625.8 L406.4,624.7 L409.2,623.6 L412.1,622.5 L414.9,621.4 L417.8,620.3 L420.6,619.3 L423.5,618.2 L426.4,617.2 L429.2,616.1 L432.1,615.1 L435.0,614.0 L437.9,613.0 L440.7,612.0 L443.6,610.9 L446.5,609.9 L449.4,608.9 L452.3,607.9 L455.2,606.9 L458.0,605.8 L460.9,604.8 L463.8,603.8 L466.7,602.8 L469.6,601.8 L472.5,600.8 L475.4,599.8 L478.3,598.8 L481.2,597.8 L484.0,596.8 L486.9,595.8 L489.8,594.8 L492.7,593.8 L495.6,592.8 L498.5,591.8 L501.4,590.8 L504.3,589.7 L507.1,588.7 L510.0,587.7 L512.9,586.7 L515.8,585.6 L518.7,584.6 L521.5,583.5 L524.4,582.5 L527.3,581.4 L530.1,580.4 L533.0,579.3 L535.8,578.2 L538.7,577.1 L541.6,576.0 L544.4,574.9 L547.3,573.8 L550.1,572.7 L552.9,571.6 L555.8,570.4 L558.6,569.3 L561.4,568.1 L564.2,567.0 L567.1,565.8 L569.9,564.6 L572.7,563.4 L575.5,562.2 L578.3,560.9 L581.1,559.7 L583.9,558.4 L586.6,557.2 L589.4,555.9 L592.2,554.6 L595.0,553.3 L597.7,552.0 L600.5,550.6 L603.2,549.3 L605.9,547.9 L608.7,546.5 L611.4,545.1 L614.1,543.7 L664,556.5 L664.0,556.4 L660.2,557.9 L656.3,559.5 L652.5,561.1 L648.6,562.7 L644.8,564.3 L640.9,565.9 L637.1,567.5 L633.2,569.1 L629.4,570.7 L625.5,572.3 L621.7,573.8 L617.8,575.4 L614.0,577.0 L610.1,578.6 L606.3,580.2 L602.4,581.8 L598.6,583.4 L594.7,584.9 L590.9,586.5 L587.1,588.1 L583.2,589.7 L579.4,591.3 L575.5,592.8 L571.7,594.4 L567.8,596.0 L564.0,597.5 L560.1,599.1 L556.3,600.7 L552.4,602.2 L548.6,603.8 L544.7,605.3 L540.9,606.9 L537.0,608.4 L533.2,610.0 L529.3,611.5 L525.5,613.0 L521.6,614.6 L517.8,616.1 L513.9,617.6 L510.1,619.2 L506.3,620.7 L502.4,622.2 L498.6,623.7 L494.7,625.2 L490.9,626.7 L487.0,628.2 L483.2,629.7 L479.3,631.2 L475.5,632.7 L471.6,634.2 L467.8,635.6 L463.9,637.1 L460.1,638.6 L456.2,640.0 L452.4,641.5 L448.5,642.9 L444.7,644.4 L440.8,645.8 L437.0,647.3 L399,628 Z"/>
<path d="M397.8,628.1 L400.7,626.9 L403.5,625.8 L406.4,624.7 L409.2,623.6 L412.1,622.5 L414.9,621.4 L417.8,620.3 L420.6,619.3 L423.5,618.2 L426.4,617.2 L429.2,616.1 L432.1,615.1 L435.0,614.0 L437.9,613.0 L440.7,612.0 L443.6,610.9 L446.5,609.9 L449.4,608.9 L452.3,607.9 L455.2,606.9 L458.0,605.8 L460.9,604.8 L463.8,603.8 L466.7,602.8 L469.6,601.8 L472.5,600.8 L475.4,599.8 L478.3,598.8 L481.2,597.8 L484.0,596.8 L486.9,595.8 L489.8,594.8 L492.7,593.8 L495.6,592.8 L498.5,591.8 L501.4,590.8 L504.3,589.7 L507.1,588.7 L510.0,587.7 L512.9,586.7 L515.8,585.6 L518.7,584.6 L521.5,583.5 L524.4,582.5 L527.3,581.4 L530.1,580.4 L533.0,579.3 L535.8,578.2 L538.7,577.1 L541.6,576.0 L544.4,574.9 L547.3,573.8 L550.1,572.7 L552.9,571.6 L555.8,570.4 L558.6,569.3 L561.4,568.1 L564.2,567.0 L567.1,565.8 L569.9,564.6 L572.7,563.4 L575.5,562.2 L578.3,560.9 L581.1,559.7 L583.9,558.4 L586.6,557.2 L589.4,555.9 L592.2,554.6 L595.0,553.3 L597.7,552.0 L600.5,550.6 L603.2,549.3 L605.9,547.9 L608.7,546.5 L611.4,545.1 L614.1,543.7" stroke="#111" stroke-width="1.8" fill="none" stroke-linejoin="round" />
<path fill="#050505" d="M437.0,647.3 L440.8,645.8 L444.7,644.4 L448.5,642.9 L452.4,641.5 L456.2,640.0 L460.1,638.6 L463.9,637.1 L467.8,635.6 L471.6,634.2 L475.5,632.7 L479.3,631.2 L483.2,629.7 L487.0,628.2 L490.9,626.7 L494.7,625.2 L498.6,623.7 L502.4,622.2 L506.3,620.7 L510.1,619.2 L513.9,617.6 L517.8,616.1 L521.6,614.6 L525.5,613.0 L529.3,611.5 L533.2,610.0 L537.0,608.4 L540.9,606.9 L544.7,605.3 L548.6,603.8 L552.4,602.2 L556.3,600.7 L560.1,599.1 L564.0,597.5 L567.8,596.0 L571.7,594.4 L575.5,592.8 L579.4,591.3 L583.2,589.7 L587.1,588.1 L590.9,586.5 L594.7,584.9 L598.6,583.4 L602.4,581.8 L606.3,580.2 L610.1,578.6 L614.0,577.0 L617.8,575.4 L621.7,573.8 L625.5,572.3 L629.4,570.7 L633.2,569.1 L637.1,567.5 L640.9,565.9 L644.8,564.3 L648.6,562.7 L652.5,561.1 L656.3,559.5 L660.2,557.9 L664.0,556.4 L664.0,571.8 L660.2,573.2 L656.3,574.5 L652.5,575.9 L648.6,577.4 L644.8,578.8 L640.9,580.2 L637.1,581.6 L633.2,583.1 L629.4,584.6 L625.5,586.0 L621.7,587.5 L617.8,589.0 L614.0,590.5 L610.1,592.1 L606.3,593.6 L602.4,595.2 L598.6,596.8 L594.7,598.4 L590.9,600.1 L587.1,601.7 L583.2,603.4 L579.4,605.0 L575.5,606.7 L571.7,608.4 L567.8,610.1 L564.0,611.8 L560.1,613.5 L556.3,615.2 L552.4,616.9 L548.6,618.6 L544.7,620.3 L540.9,622.0 L537.0,623.7 L533.2,625.3 L529.3,626.9 L525.5,628.5 L521.6,630.1 L517.8,631.7 L513.9,633.2 L510.1,634.7 L506.3,636.2 L502.4,637.7 L498.6,639.1 L494.7,640.6 L490.9,642.0 L487.0,643.4 L483.2,644.8 L479.3,646.2 L475.5,647.6 L471.6,648.9 L467.8,650.3 L463.9,651.6 L460.1,653.0 L456.2,654.4 L452.4,655.7 L448.5,657.1 L444.7,658.4 L440.8,659.8 L437.0,659.8 Z"/>
<path fill="url(#gE)" filter="url(#blur2)" d="M437.0,652.5 L440.8,651.7 L444.7,650.3 L448.5,648.9 L452.4,647.5 L456.2,646.0 L460.1,644.6 L463.9,643.2 L467.8,641.8 L471.6,640.4 L475.5,638.9 L479.3,637.5 L483.2,636.0 L487.0,634.6 L490.9,633.1 L494.7,631.7 L498.6,630.2 L502.4,628.7 L506.3,627.2 L510.1,625.7 L513.9,624.2 L517.8,622.7 L521.6,621.1 L525.5,619.6 L529.3,618.0 L533.2,616.4 L537.0,614.8 L540.9,613.2 L544.7,611.6 L548.6,610.0 L552.4,608.4 L556.3,606.8 L560.1,605.1 L564.0,603.5 L567.8,601.9 L571.7,600.3 L575.5,598.7 L579.4,597.0 L583.2,595.4 L587.1,593.8 L590.9,592.2 L594.7,590.6 L598.6,589.0 L602.4,587.4 L606.3,585.8 L610.1,584.3 L614.0,582.7 L617.8,581.1 L621.7,579.6 L625.5,578.0 L629.4,576.5 L633.2,575.0 L637.1,573.4 L640.9,571.9 L644.8,570.4 L648.6,568.9 L652.5,567.4 L656.3,565.8 L660.2,564.3 L664.0,562.8 L664.0,569.0 L660.2,570.4 L656.3,571.8 L652.5,573.3 L648.6,574.7 L644.8,576.2 L640.9,577.6 L637.1,579.1 L633.2,580.6 L629.4,582.1 L625.5,583.6 L621.7,585.1 L617.8,586.6 L614.0,588.1 L610.1,589.7 L606.3,591.2 L602.4,592.8 L598.6,594.4 L594.7,596.0 L590.9,597.6 L587.1,599.3 L583.2,600.9 L579.4,602.5 L575.5,604.2 L571.7,605.9 L567.8,607.6 L564.0,609.2 L560.1,610.9 L556.3,612.6 L552.4,614.3 L548.6,615.9 L544.7,617.6 L540.9,619.3 L537.0,620.9 L533.2,622.5 L529.3,624.2 L525.5,625.8 L521.6,627.3 L517.8,628.9 L513.9,630.4 L510.1,631.9 L506.3,633.4 L502.4,634.9 L498.6,636.4 L494.7,637.8 L490.9,639.2 L487.0,640.7 L483.2,642.1 L479.3,643.5 L475.5,644.9 L471.6,646.3 L467.8,647.6 L463.9,649.0 L460.1,650.4 L456.2,651.8 L452.4,653.2 L448.5,654.5 L444.7,655.9 L440.8,657.3 L437.0,657.5 Z"/>
<path d="M437.0,658.8 L440.8,658.7 L444.7,657.3 L448.5,655.9 L452.4,654.6 L456.2,653.2 L460.1,651.8 L463.9,650.5 L467.8,649.1 L471.6,647.7 L475.5,646.4 L479.3,645.0 L483.2,643.6 L487.0,642.2 L490.9,640.8 L494.7,639.4 L498.6,637.9 L502.4,636.5 L506.3,635.0 L510.1,633.5 L513.9,632.0 L517.8,630.4 L521.6,628.9 L525.5,627.3 L529.3,625.7 L533.2,624.1 L537.0,622.4 L540.9,620.8 L544.7,619.1 L548.6,617.4 L552.4,615.7 L556.3,614.1 L560.1,612.4 L564.0,610.7 L567.8,609.0 L571.7,607.3 L575.5,605.6 L579.4,603.9 L583.2,602.3 L587.1,600.6 L590.9,599.0 L594.7,597.4 L598.6,595.7 L602.4,594.2 L606.3,592.6 L610.1,591.0 L614.0,589.5 L617.8,587.9 L621.7,586.4 L625.5,584.9 L629.4,583.4 L633.2,582.0 L637.1,580.5 L640.9,579.1 L644.8,577.6 L648.6,576.2 L652.5,574.8 L656.3,573.3 L660.2,571.9 L664.0,570.5" stroke="#000" stroke-width="1.4" fill="none" stroke-linejoin="round" />
<clipPath id="kE"><path d="M440.9,659.8 L443.8,658.8 L446.7,657.7 L449.5,656.7 L452.4,655.7 L455.3,654.7 L458.1,653.7 L461.0,652.7 L463.9,651.7 L466.7,650.7 L469.6,649.6 L472.5,648.6 L475.3,647.6 L478.2,646.6 L481.0,645.6 L483.9,644.5 L486.8,643.5 L489.6,642.5 L492.5,641.4 L495.3,640.4 L498.2,639.3 L501.0,638.2 L503.8,637.2 L506.7,636.1 L509.5,635.0 L512.3,633.9 L515.1,632.8 L518.0,631.6 L520.8,630.5 L523.6,629.3 L526.4,628.2 L529.2,627.0 L532.0,625.8 L534.8,624.6 L537.5,623.4 L540.3,622.2 L543.1,621.0 L545.9,619.8 L548.7,618.6 L551.5,617.4 L554.2,616.1 L557.0,614.9 L559.8,613.7 L562.6,612.4 L565.3,611.2 L568.1,610.0 L570.9,608.7 L573.7,607.5 L576.5,606.3 L579.2,605.1 L582.0,603.9 L584.8,602.7 L587.6,601.5 L590.4,600.3 L593.2,599.1 L596.0,597.9 L598.8,596.7 L601.6,595.6 L604.4,594.4 L607.2,593.3 L610.1,592.1 L612.9,591.0 L615.7,589.9 L618.5,588.8 L621.4,587.6 L624.2,586.5 L627.0,585.5 L629.9,584.4 L632.7,583.3 L635.6,582.2 L638.4,581.1 L641.2,580.1 L644.1,579.0 L646.9,578.0 L649.8,576.9 L652.7,575.9 L655.5,574.8 L658.4,573.8 L661.2,572.8 L664.1,571.7 L669,618.5 L669.0,618.9 L666.1,620.0 L663.3,621.2 L660.4,622.3 L657.6,623.4 L654.8,624.6 L652.0,625.7 L649.1,626.9 L646.3,628.1 L643.5,629.3 L640.7,630.5 L637.9,631.7 L635.1,632.9 L632.3,634.1 L629.5,635.3 L626.8,636.6 L624.0,637.8 L621.2,639.1 L618.4,640.4 L615.7,641.6 L612.9,642.9 L610.1,644.2 L607.4,645.5 L604.6,646.8 L601.9,648.1 L599.1,649.4 L596.4,650.8 L593.6,652.1 L590.9,653.4 L588.2,654.8 L585.4,656.1 L582.7,657.4 L580.0,658.8 L577.2,660.1 L574.5,661.5 L571.8,662.9 L569.0,664.2 L566.3,665.6 L563.6,667.0 L560.9,668.3 L558.1,669.7 L555.4,671.1 L552.7,672.5 L550.0,673.9 L547.3,675.2 L544.6,676.6 L541.8,678.0 L539.1,679.4 L536.4,680.8 L533.7,682.1 L531.0,683.5 L528.2,684.9 L525.5,686.3 L522.8,687.7 L520.1,689.1 L517.4,690.4 L514.6,691.8 L511.9,693.2 L509.2,694.6 L506.5,695.9 L503.7,697.3 L501.0,698.7 L498.3,700.0 L495.5,701.4 L492.8,702.7 L490.1,704.1 L487.3,705.4 L484.6,706.8 L481.9,708.1 L479.1,709.4 L476.4,710.7 L473.6,712.1 L470.9,713.4 L468.1,714.7 L465.4,716.0 L462.6,717.3 L459.8,718.6 L457.1,719.8 L454.3,721.1 L451.5,722.4 L448.7,723.6 L445.9,724.9 Z"/></clipPath>
<g clip-path="url(#kE)">
<path d="M460.6,651.5 L464.2,657.9 L469.0,658.1 L461.4,671.1 L452.6,664.7 L457.0,663.3 Z" fill="#fff" stroke="#111" stroke-width="1.90" stroke-linejoin="round"/>
<path d="M498.1,639.1 L501.5,645.1 L506.0,645.3 L498.9,657.5 L490.6,651.5 L494.7,650.2 Z" fill="#fff" stroke="#111" stroke-width="1.80" stroke-linejoin="round"/>
<path d="M530.8,624.6 L534.0,630.3 L538.3,630.5 L531.6,642.0 L523.7,636.3 L527.6,635.1 Z" fill="#fff" stroke="#111" stroke-width="1.71" stroke-linejoin="round"/>
<path d="M562.4,613.1 L565.4,618.5 L569.4,618.6 L563.0,629.6 L555.7,624.2 L559.3,623.0 Z" fill="#fff" stroke="#111" stroke-width="1.63" stroke-linejoin="round"/>
<path d="M590.9,601.6 L593.7,606.6 L597.5,606.8 L591.5,617.1 L584.5,612.0 L588.0,610.9 Z" fill="#fff" stroke="#111" stroke-width="1.55" stroke-linejoin="round"/>
<path d="M617.9,590.0 L620.6,594.8 L624.2,594.9 L618.5,604.7 L611.9,599.9 L615.2,598.9 Z" fill="#fff" stroke="#111" stroke-width="1.48" stroke-linejoin="round"/>
<path d="M642.7,579.2 L645.3,583.7 L648.7,583.9 L643.3,593.1 L637.0,588.6 L640.2,587.6 Z" fill="#fff" stroke="#111" stroke-width="1.41" stroke-linejoin="round"/>
<path d="M662.2,569.7 L664.7,574.1 L667.9,574.2 L662.8,583.0 L656.8,578.7 L659.8,577.7 Z" fill="#fff" stroke="#111" stroke-width="1.35" stroke-linejoin="round"/>
<path d="M481.6,665.8 L485.1,672.0 L489.7,672.2 L482.4,684.8 L473.9,678.6 L478.1,677.2 Z" fill="#fff" stroke="#111" stroke-width="1.85" stroke-linejoin="round"/>
<path d="M514.6,651.3 L517.9,657.2 L522.3,657.4 L515.4,669.3 L507.3,663.4 L511.3,662.1 Z" fill="#fff" stroke="#111" stroke-width="1.76" stroke-linejoin="round"/>
<path d="M547.4,638.4 L550.5,643.9 L554.6,644.1 L548.0,655.3 L540.5,649.8 L544.2,648.6 Z" fill="#fff" stroke="#111" stroke-width="1.67" stroke-linejoin="round"/>
<path d="M577.4,625.4 L580.3,630.6 L584.2,630.7 L578.0,641.3 L570.9,636.1 L574.4,635.0 Z" fill="#fff" stroke="#111" stroke-width="1.59" stroke-linejoin="round"/>
<path d="M605.2,613.8 L608.0,618.7 L611.7,618.9 L605.8,628.9 L599.0,624.0 L602.4,622.9 Z" fill="#fff" stroke="#111" stroke-width="1.51" stroke-linejoin="round"/>
<path d="M630.7,602.2 L633.3,606.9 L636.8,607.0 L631.3,616.5 L624.9,611.8 L628.1,610.8 Z" fill="#fff" stroke="#111" stroke-width="1.44" stroke-linejoin="round"/>
<path d="M654.7,590.6 L657.2,595.0 L660.5,595.1 L655.3,604.1 L649.2,599.7 L652.2,598.7 Z" fill="#fff" stroke="#111" stroke-width="1.38" stroke-linejoin="round"/>
<path d="M463.1,693.5 L466.7,699.9 L471.5,700.1 L463.9,713.1 L455.1,706.7 L459.5,705.3 Z" fill="#fff" stroke="#111" stroke-width="1.90" stroke-linejoin="round"/><path d="M471.5,700.1 L463.9,713.1" stroke="#000" stroke-width="3.39" stroke-linecap="round"/><path d="M463.1,693.5 L466.7,699.9" stroke="#000" stroke-width="2.79" stroke-linecap="round"/>
<path d="M499.6,678.6 L503.0,684.6 L507.5,684.8 L500.4,697.0 L492.1,691.0 L496.2,689.7 Z" fill="#fff" stroke="#111" stroke-width="1.80" stroke-linejoin="round"/><path d="M507.5,684.8 L500.4,697.0" stroke="#000" stroke-width="3.19" stroke-linecap="round"/><path d="M499.6,678.6 L503.0,684.6" stroke="#000" stroke-width="2.63" stroke-linecap="round"/>
<path d="M532.3,663.6 L535.5,669.3 L539.8,669.5 L533.1,681.0 L525.3,675.3 L529.2,674.1 Z" fill="#fff" stroke="#111" stroke-width="1.71" stroke-linejoin="round"/><path d="M539.8,669.5 L533.1,681.0" stroke="#000" stroke-width="3.02" stroke-linecap="round"/><path d="M532.3,663.6 L535.5,669.3" stroke="#000" stroke-width="2.48" stroke-linecap="round"/>
<path d="M563.9,650.6 L566.9,656.0 L570.9,656.2 L564.5,667.0 L557.2,661.7 L560.9,660.5 Z" fill="#fff" stroke="#111" stroke-width="1.62" stroke-linejoin="round"/><path d="M570.9,656.2 L564.5,667.0" stroke="#000" stroke-width="2.84" stroke-linecap="round"/><path d="M563.9,650.6 L566.9,656.0" stroke="#000" stroke-width="2.34" stroke-linecap="round"/>
<path d="M591.7,637.6 L594.5,642.6 L598.3,642.8 L592.3,653.1 L585.3,648.0 L588.8,646.9 Z" fill="#fff" stroke="#111" stroke-width="1.55" stroke-linejoin="round"/><path d="M598.3,642.8 L592.3,653.1" stroke="#000" stroke-width="2.69" stroke-linecap="round"/><path d="M591.7,637.6 L594.5,642.6" stroke="#000" stroke-width="2.22" stroke-linecap="round"/>
<path d="M617.9,626.0 L620.6,630.8 L624.2,630.9 L618.5,640.7 L611.9,635.9 L615.2,634.9 Z" fill="#fff" stroke="#111" stroke-width="1.48" stroke-linejoin="round"/><path d="M624.2,630.9 L618.5,640.7" stroke="#000" stroke-width="2.55" stroke-linecap="round"/><path d="M617.9,626.0 L620.6,630.8" stroke="#000" stroke-width="2.10" stroke-linecap="round"/>
<path d="M642.7,612.9 L645.3,617.4 L648.7,617.6 L643.3,626.8 L637.0,622.3 L640.2,621.3 Z" fill="#fff" stroke="#111" stroke-width="1.41" stroke-linejoin="round"/><path d="M648.7,617.6 L643.3,626.8" stroke="#000" stroke-width="2.42" stroke-linecap="round"/><path d="M642.7,612.9 L645.3,617.4" stroke="#000" stroke-width="1.99" stroke-linecap="round"/>
<path d="M662.2,605.7 L664.7,610.1 L667.9,610.2 L662.8,619.0 L656.8,614.7 L659.8,613.7 Z" fill="#fff" stroke="#111" stroke-width="1.35" stroke-linejoin="round"/><path d="M667.9,610.2 L662.8,619.0" stroke="#000" stroke-width="2.31" stroke-linecap="round"/><path d="M662.2,605.7 L664.7,610.1" stroke="#000" stroke-width="1.90" stroke-linecap="round"/>
</g>
<path d="M445.9,724.9 L448.7,723.6 L451.5,722.4 L454.3,721.1 L457.1,719.8 L459.8,718.6 L462.6,717.3 L465.4,716.0 L468.1,714.7 L470.9,713.4 L473.6,712.1 L476.4,710.7 L479.1,709.4 L481.9,708.1 L484.6,706.8 L487.3,705.4 L490.1,704.1 L492.8,702.7 L495.5,701.4 L498.3,700.0 L501.0,698.7 L503.7,697.3 L506.5,695.9 L509.2,694.6 L511.9,693.2 L514.6,691.8 L517.4,690.4 L520.1,689.1 L522.8,687.7 L525.5,686.3 L528.2,684.9 L531.0,683.5 L533.7,682.1 L536.4,680.8 L539.1,679.4 L541.8,678.0 L544.6,676.6 L547.3,675.2 L550.0,673.9 L552.7,672.5 L555.4,671.1 L558.1,669.7 L560.9,668.3 L563.6,667.0 L566.3,665.6 L569.0,664.2 L571.8,662.9 L574.5,661.5 L577.2,660.1 L580.0,658.8 L582.7,657.4 L585.4,656.1 L588.2,654.8 L590.9,653.4 L593.6,652.1 L596.4,650.8 L599.1,649.4 L601.9,648.1 L604.6,646.8 L607.4,645.5 L610.1,644.2 L612.9,642.9 L615.7,641.6 L618.4,640.4 L621.2,639.1 L624.0,637.8 L626.8,636.6 L629.5,635.3 L632.3,634.1 L635.1,632.9 L637.9,631.7 L640.7,630.5 L643.5,629.3 L646.3,628.1 L649.1,626.9 L652.0,625.7 L654.8,624.6 L657.6,623.4 L660.4,622.3 L663.3,621.2 L666.1,620.0 L669.0,618.9" stroke="#000" stroke-width="3.4" fill="none" stroke-linejoin="round" />
<path d="M396,627.6 L435.4,647.4 Q442,650.5 443.2,660.6 L446.2,722 Q446.5,728 441.4,726.6 L400.6,701.4 Q396,698.5 395.8,691.8 L391.6,632 Q391.6,627 396,627.6 Z" fill="#fcfcfc" stroke="#111" stroke-width="1.6"/>
<path fill="#050505" d="M659.0,552.8 L662.5,551.1 L666.0,549.3 L669.5,547.7 L672.9,546.0 L676.4,544.4 L679.9,542.8 L683.4,541.2 L686.9,539.7 L690.4,538.2 L693.9,536.7 L697.4,535.2 L700.8,533.7 L704.3,532.3 L707.8,530.8 L711.3,529.3 L714.8,527.9 L718.3,526.4 L721.8,524.9 L725.3,523.4 L728.7,522.0 L732.2,520.5 L735.7,518.9 L739.2,517.4 L742.7,515.8 L746.2,514.2 L749.7,512.6 L753.2,511.0 L756.6,509.3 L760.1,507.6 L763.6,505.8 L767.1,504.0 L770.6,502.1 L774.1,500.2 L777.6,498.3 L781.1,496.2 L784.5,494.1 L788.0,491.9 L791.5,489.7 L795.0,487.5 L795.0,506.5 L791.5,508.0 L788.0,509.6 L784.5,511.2 L781.1,512.8 L777.6,514.5 L774.1,516.1 L770.6,517.9 L767.1,519.6 L763.6,521.4 L760.1,523.2 L756.6,525.0 L753.2,526.8 L749.7,528.6 L746.2,530.5 L742.7,532.3 L739.2,534.1 L735.7,536.0 L732.2,537.8 L728.7,539.6 L725.3,541.3 L721.8,543.1 L718.3,544.8 L714.8,546.5 L711.3,548.2 L707.8,549.8 L704.3,551.4 L700.8,553.0 L697.4,554.5 L693.9,556.0 L690.4,557.4 L686.9,558.7 L683.4,560.0 L679.9,561.3 L676.4,562.5 L672.9,563.6 L669.5,564.7 L666.0,565.7 L662.5,566.6 L659.0,567.5 Z"/>
<path fill="url(#gG)" filter="url(#blur2)" d="M659.0,558.1 L662.5,556.7 L666.0,555.2 L669.5,553.8 L672.9,552.3 L676.4,550.9 L679.9,549.5 L683.4,548.0 L686.9,546.6 L690.4,545.1 L693.9,543.6 L697.4,542.1 L700.8,540.7 L704.3,539.2 L707.8,537.6 L711.3,536.1 L714.8,534.6 L718.3,533.0 L721.8,531.5 L725.3,529.9 L728.7,528.3 L732.2,526.7 L735.7,525.1 L739.2,523.4 L742.7,521.8 L746.2,520.1 L749.7,518.4 L753.2,516.7 L756.6,515.0 L760.1,513.2 L763.6,511.4 L767.1,509.6 L770.6,507.8 L774.1,506.0 L777.6,504.1 L781.1,502.2 L784.5,500.3 L788.0,498.3 L791.5,496.3 L795.0,494.4 L795.0,502.7 L791.5,504.4 L788.0,506.1 L784.5,507.8 L781.1,509.5 L777.6,511.2 L774.1,513.0 L770.6,514.7 L767.1,516.5 L763.6,518.3 L760.1,520.1 L756.6,521.9 L753.2,523.6 L749.7,525.4 L746.2,527.2 L742.7,529.0 L739.2,530.8 L735.7,532.6 L732.2,534.3 L728.7,536.0 L725.3,537.8 L721.8,539.5 L718.3,541.1 L714.8,542.8 L711.3,544.4 L707.8,546.0 L704.3,547.6 L700.8,549.1 L697.4,550.6 L693.9,552.1 L690.4,553.5 L686.9,554.9 L683.4,556.3 L679.9,557.6 L676.4,558.9 L672.9,560.1 L669.5,561.3 L666.0,562.4 L662.5,563.5 L659.0,564.5 Z"/>
<path d="M659.0,566.0 L662.5,565.1 L666.0,564.0 L669.5,563.0 L672.9,561.8 L676.4,560.7 L679.9,559.4 L683.4,558.2 L686.9,556.8 L690.4,555.5 L693.9,554.0 L697.4,552.6 L700.8,551.1 L704.3,549.5 L707.8,547.9 L711.3,546.3 L714.8,544.7 L718.3,543.0 L721.8,541.3 L725.3,539.6 L728.7,537.8 L732.2,536.0 L735.7,534.3 L739.2,532.5 L742.7,530.7 L746.2,528.9 L749.7,527.0 L753.2,525.2 L756.6,523.4 L760.1,521.6 L763.6,519.8 L767.1,518.1 L770.6,516.3 L774.1,514.6 L777.6,512.8 L781.1,511.1 L784.5,509.5 L788.0,507.8 L791.5,506.2 L795.0,504.6" stroke="#000" stroke-width="1.4" fill="none" stroke-linejoin="round" />
<path d="M613.6,541.4 L656,552.6 Q663.5,554.8 666.5,560 Q668.6,564 668.6,570 L668.2,619 Q667.5,626.5 660.8,626.6 L656.5,625.6 Q662,623.5 663.6,616 L665,568 Q664.8,563.5 662.4,561 Q659.8,557.8 655.2,557 L614.4,545 Z" fill="#fff" stroke="#111" stroke-width="1.3" stroke-linejoin="round"/>
<path d="M741,478.5 L786,486 Q796.5,488.5 799,496 L801.5,510 L799.6,548 Q797.5,558.5 788,560.2 L779.5,560 Q791,556 792.8,544 L794,510 L792.5,499 Q789,492.5 780,492 L742,486 Z" fill="#fff" stroke="#111" stroke-width="1.4" stroke-linejoin="round"/>
<path d="M235.3,625.8 L235.3,674.4 L419,674.4" stroke="#111" stroke-width="2" fill="none" stroke-linejoin="round" />
<circle cx="419.8" cy="674.4" r="7.2" fill="#000"/>
<path d="M735.6,369.5 L822.5,369.5 L822.5,487" stroke="#111" stroke-width="2" fill="none" stroke-linejoin="round" />
<circle cx="822.4" cy="487.2" r="7.1" fill="#000"/>
<path d="M711,573.2 L801.8,573.2 L801.8,657.6" stroke="#111" stroke-width="2" fill="none" stroke-linejoin="round" />
<circle cx="710.8" cy="573.2" r="6.8" fill="#000"/>
<g font-family="&quot;Liberation Sans&quot;, sans-serif" font-size="22.5" fill="#161616" stroke="#161616" stroke-width="0.3" opacity="0.995">
<text x="55.9" y="522.2" textLength="346.1" lengthAdjust="spacingAndGlyphs">GRIP-TIGHT™ technology features</text>
<text x="57.3" y="551.7" textLength="323.1" lengthAdjust="spacingAndGlyphs">a solid steel core with dual-face</text>
<text x="56.9" y="581.5" textLength="342.7" lengthAdjust="spacingAndGlyphs">extra deep embossed knurling to</text>
<text x="57.3" y="611" textLength="307.5" lengthAdjust="spacingAndGlyphs">guarantee a firm grip on head</text>
<text x="537.4" y="346" textLength="242.2" lengthAdjust="spacingAndGlyphs">Fully encased in aircraft</text>
<text x="538" y="375.4" textLength="177.6" lengthAdjust="spacingAndGlyphs">grade aluminium</text>
<text x="665.5" y="687" textLength="277.4" lengthAdjust="spacingAndGlyphs">Latest polymer technology</text>
<text x="666.5" y="716.5" textLength="259.5" lengthAdjust="spacingAndGlyphs">membrane crimped 360°</text>
<text x="666" y="746" textLength="234.5" lengthAdjust="spacingAndGlyphs">around solid steel core</text>
</g>
</svg></body></html>
